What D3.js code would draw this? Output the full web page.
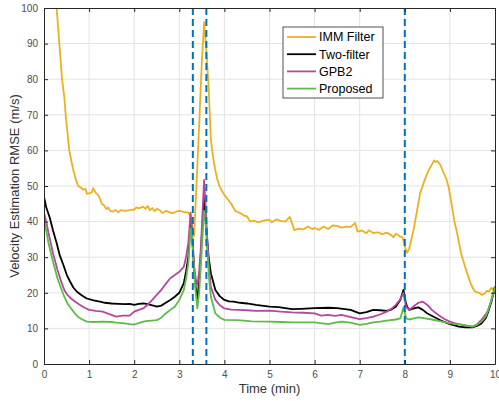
<!DOCTYPE html>
<html>
<head>
<meta charset="utf-8">
<script src="https://cdn.jsdelivr.net/npm/d3@7"></script>
<style>
  body { margin: 0; background: #fff; }
  svg { font-family: 'Liberation Sans', Arial, Helvetica, sans-serif; }
</style>
</head>
<body>
<svg id="chart" width="499" height="401"></svg>
<script>
// + -- data ----------------------------------------------------------------- +
const seriesNames = ['IMM Filter', 'Two-filter', 'GPB2', 'Proposed']
const seriesColors = ['#EDB120', '#000000', '#B5489C', '#5DBB46']

const immT = [0.2, 0.28, 0.34, 0.40, 0.45, 0.48, 0.56, 0.64, 0.70, 0.76, 0.82, 0.87, 0.92, 0.95, 1.02, 1.06, 1.09, 1.15, 1.2, 1.24, 1.28, 1.33, 1.38, 1.42, 1.47, 1.53, 1.58, 1.65, 1.7, 1.8, 1.9, 2.0, 2.05, 2.1, 2.2, 2.25, 2.3, 2.35, 2.4, 2.45, 2.5, 2.57, 2.62, 2.7, 2.8, 2.87, 2.95, 3.0, 3.1, 3.2, 3.25, 3.3, 3.33, 3.38, 3.45, 3.5, 3.55, 3.6, 3.65, 3.7, 3.75, 3.79, 3.84, 3.89, 3.95, 4.0, 4.09, 4.15, 4.24, 4.35, 4.45, 4.5, 4.57, 4.65, 4.75, 4.85, 4.95, 5.0, 5.05, 5.15, 5.25, 5.35, 5.45, 5.5, 5.55, 5.65, 5.75, 5.85, 5.95, 6.0, 6.1, 6.2, 6.3, 6.4, 6.5, 6.6, 6.7, 6.8, 6.9, 6.95, 7.05, 7.15, 7.2, 7.3, 7.4, 7.5, 7.6, 7.7, 7.75, 7.8, 7.9, 7.95, 8.0, 8.05, 8.1, 8.2, 8.34, 8.45, 8.53, 8.6, 8.65, 8.68, 8.72, 8.79, 8.85, 8.92, 8.97, 9.05, 9.1, 9.16, 9.25, 9.32, 9.38, 9.45, 9.5, 9.56, 9.65, 9.71, 9.78, 9.82, 9.86, 9.92, 9.95, 10]
const immV = [113, 100, 90, 80, 75, 70, 60, 55, 52, 50, 49.5, 49, 49.2, 47.8, 48, 48.2, 49.4, 48, 47.5, 46.5, 45, 44.6, 43.5, 44, 43, 42.8, 43.3, 42.6, 43.2, 43, 43.2, 43.4, 44, 43.7, 44.2, 43.6, 44.4, 43.2, 43.8, 42.9, 43.6, 43.2, 42.4, 43, 42.5, 42.4, 42.9, 43, 42.7, 42.5, 41.5, 37, 36, 50, 70, 85, 96, 88, 78, 63, 58, 55, 52, 50, 48.5, 47.5, 46, 45, 43, 42.4, 41.6, 41.5, 40, 40.3, 39.8, 40.2, 40.5, 40.5, 39.8, 40.6, 40.2, 40, 41.3, 39.5, 37.6, 38, 37.8, 38.6, 37.9, 38.2, 37.7, 38.6, 37.9, 38.9, 38.8, 38.3, 38.6, 38.5, 39.6, 37.2, 37.5, 36.7, 37.6, 36.8, 37, 36.5, 36.9, 36.2, 35.6, 36.6, 35.8, 35.6, 33, 31.2, 32.5, 38, 48, 52, 54.5, 56, 57.2, 56.8, 57, 55.9, 54, 52, 49.8, 44, 40, 36.8, 31, 28, 25.6, 23, 21.5, 20.3, 20, 19.4, 19.9, 20.6, 20.3, 21.4, 20.8, 21.7]

const twoT = [0, 0.05, 0.13, 0.2, 0.28, 0.35, 0.43, 0.5, 0.58, 0.65, 0.73, 0.85, 0.95, 1.1, 1.24, 1.35, 1.5, 1.65, 1.8, 1.9, 2.0, 2.1, 2.2, 2.3, 2.4, 2.5, 2.6, 2.7, 2.8, 2.9, 3.0, 3.1, 3.15, 3.2, 3.24, 3.26, 3.3, 3.35, 3.4, 3.45, 3.5, 3.55, 3.6, 3.65, 3.7, 3.8, 3.9, 4.0, 4.1, 4.2, 4.35, 4.5, 4.7, 5.0, 5.2, 5.5, 5.7, 6.0, 6.3, 6.5, 6.8, 7.0, 7.15, 7.3, 7.45, 7.6, 7.7, 7.8, 7.9, 7.97, 8.02, 8.05, 8.1, 8.2, 8.3, 8.4, 8.5, 8.65, 8.8, 9.0, 9.2, 9.35, 9.5, 9.6, 9.7, 9.8, 9.85, 9.92, 10]
const twoV = [47, 44, 41, 37.5, 34, 30.5, 27.8, 25.2, 23.1, 21.5, 20.3, 19.2, 18.4, 17.9, 17.5, 17.2, 17, 16.9, 16.8, 16.9, 16.6, 16.9, 17, 16.8, 16.5, 16.1, 16.4, 17.2, 18, 18.9, 20, 22.7, 26, 30, 38, 40, 33, 23, 17.8, 25, 36, 47, 38, 30, 25.5, 20.8, 19, 18, 17.6, 17.5, 17.2, 17, 16.6, 16.1, 16, 15.4, 15.5, 15.7, 15.8, 15.7, 15.2, 14.2, 14.6, 15.2, 15.1, 14.9, 15.3, 16.1, 18, 20.8, 17.5, 16.1, 15.2, 15.6, 15.9, 15.2, 14.2, 13.2, 12.2, 11.2, 10.5, 10.3, 10.3, 10.7, 11.4, 13, 14.7, 17.5, 21.7]

const gpbT = [0, 0.05, 0.1, 0.2, 0.3, 0.38, 0.45, 0.52, 0.6, 0.7, 0.8, 0.9, 1.0, 1.15, 1.3, 1.45, 1.6, 1.75, 1.9, 2.0, 2.1, 2.2, 2.3, 2.4, 2.5, 2.6, 2.7, 2.8, 2.9, 3.0, 3.1, 3.15, 3.2, 3.25, 3.28, 3.3, 3.34, 3.37, 3.4, 3.44, 3.48, 3.52, 3.55, 3.58, 3.62, 3.66, 3.7, 3.8, 3.9, 4.0, 4.15, 4.3, 4.5, 4.7, 5.0, 5.25, 5.5, 5.75, 6.0, 6.15, 6.3, 6.45, 6.6, 6.8, 7.0, 7.15, 7.3, 7.45, 7.6, 7.7, 7.8, 7.9, 7.97, 8.03, 8.1, 8.2, 8.3, 8.4, 8.5, 8.6, 8.7, 8.8, 8.9, 9.0, 9.1, 9.2, 9.35, 9.5, 9.6, 9.7, 9.8, 9.85, 9.92, 10]
const gpbV = [42.5, 40, 36.8, 31.1, 26.4, 23.2, 20.8, 19.4, 18.4, 17.4, 16.6, 15.8, 15.2, 14.9, 14.7, 14, 13.3, 13.6, 13.6, 14.7, 15.2, 15.6, 16.7, 18, 19.4, 20.8, 22.5, 24.1, 25, 25.9, 27.3, 30, 34, 42.5, 38, 32, 26, 23.6, 22.2, 26, 33, 44, 51.7, 45, 35, 27, 21.7, 18, 16.5, 15.6, 15.3, 15.2, 15.1, 14.9, 15, 14.7, 14.5, 14.4, 14.2, 13.6, 13.8, 13.5, 13.8, 13.2, 12.6, 12.9, 13.3, 13.9, 14.7, 15.5, 16.6, 18.2, 20, 16, 15.2, 16.2, 17.2, 17.5, 16.6, 15.2, 14.2, 13.3, 12.5, 11.9, 11.5, 11.2, 10.8, 10.5, 11.1, 12.4, 14, 15.2, 18, 21.7]

const propT = [0, 0.05, 0.1, 0.2, 0.3, 0.38, 0.45, 0.52, 0.6, 0.68, 0.75, 0.85, 0.95, 1.1, 1.3, 1.5, 1.6, 1.75, 1.9, 2.0, 2.1, 2.2, 2.3, 2.4, 2.5, 2.6, 2.7, 2.8, 2.9, 3.0, 3.1, 3.15, 3.2, 3.25, 3.28, 3.3, 3.35, 3.4, 3.44, 3.48, 3.52, 3.55, 3.58, 3.62, 3.66, 3.7, 3.8, 3.9, 4.0, 4.3, 4.6, 5.0, 5.25, 5.5, 6.0, 6.3, 6.45, 6.6, 6.8, 7.0, 7.15, 7.3, 7.45, 7.6, 7.8, 7.9, 7.97, 8.03, 8.1, 8.2, 8.3, 8.45, 8.6, 8.8, 9.0, 9.15, 9.3, 9.5, 9.6, 9.7, 9.8, 9.85, 9.92, 10]
const propV = [41, 37.5, 33.9, 28.7, 24, 21.2, 18.9, 17, 15.6, 14.3, 13.3, 12.5, 11.9, 11.8, 11.9, 11.8, 11.6, 11.5, 11.2, 11.1, 11.5, 11.9, 12.1, 12.2, 12.3, 13, 14.2, 15.2, 16.1, 18, 20.8, 24, 28.3, 38.1, 36, 32, 22, 15.6, 20, 28, 37, 43, 40, 32, 24, 18.9, 14.2, 13, 12.4, 12.3, 12, 11.9, 11.8, 11.7, 11.7, 11.2, 11.6, 11.9, 11.6, 11, 11.3, 11.7, 11.9, 12.2, 12.5, 12.8, 15.9, 12.8, 12.5, 12.8, 13.1, 12.8, 12.5, 12, 11.4, 11.2, 11, 10.5, 11, 11.9, 13.5, 15.2, 18, 21.5]

const switchTimes = [3.3, 3.6, 8.0]
const xTicks = d3.range(0, 11, 1)
const yTicks = d3.range(0, 101, 10)

// + -- layout ---------------------------------------------------------------- +
const W = 499, H = 401
const padL = 44, padR = 495, padT = 8, padB = 364
const axisColor = '#262626'
const gridColor = '#e3e3e3'

const svg = d3.select('#chart')

const x = d3.scaleLinear().domain([0, 10]).range([padL, padR])
const y = d3.scaleLinear().domain([0, 100]).range([padB, padT])

svg.append('rect').attr('x', 0).attr('y', 0).attr('width', W).attr('height', H).attr('fill', '#fff')

// grid
const grid = svg.append('g')
grid.selectAll('.gx').data(xTicks.slice(1, -1)).enter().append('line')
  .attr('x1', d => x(d)).attr('x2', d => x(d))
  .attr('y1', padT).attr('y2', padB)
  .attr('stroke', gridColor).attr('stroke-width', 1)
grid.selectAll('.gy').data(yTicks.slice(1, -1)).enter().append('line')
  .attr('x1', padL).attr('x2', padR)
  .attr('y1', d => y(d)).attr('y2', d => y(d))
  .attr('stroke', gridColor).attr('stroke-width', 1)

svg.append('clipPath').attr('id', 'plotclip')
  .append('rect').attr('x', padL).attr('y', padT).attr('width', padR - padL).attr('height', padB - padT)

const plot = svg.append('g').attr('clip-path', 'url(#plotclip)')

const line = d3.line().x(d => x(d[0])).y(d => y(d[1]))
const series = [
  d3.zip(immT, immV),
  d3.zip(twoT, twoV),
  d3.zip(gpbT, gpbV),
  d3.zip(propT, propV)
]

series.forEach((s, i) => {
  plot.append('path')
    .datum(s)
    .attr('d', line)
    .attr('fill', 'none')
    .attr('stroke', seriesColors[i])
    .attr('stroke-width', 1.8)
    .attr('stroke-linejoin', 'round')
})

// dashed switching instants
plot.selectAll('.sw').data(switchTimes).enter().append('line')
  .attr('x1', d => x(d)).attr('x2', d => x(d))
  .attr('y1', padT).attr('y2', padB)
  .attr('stroke', '#0072BD').attr('stroke-width', 2)
  .attr('stroke-dasharray', '7,4')

// axes (box with inward ticks, MATLAB style)
const fmt = d3.format('d')
const axB = svg.append('g').attr('transform', 'translate(0,' + padB + ')')
  .call(d3.axisBottom(x).tickValues(xTicks).tickFormat(fmt).tickSizeInner(-4).tickSizeOuter(0).tickPadding(7))
const axL = svg.append('g').attr('transform', 'translate(' + padL + ',0)')
  .call(d3.axisLeft(y).tickValues(yTicks).tickFormat(fmt).tickSizeInner(-4).tickSizeOuter(0).tickPadding(6))
const axT = svg.append('g').attr('transform', 'translate(0,' + padT + ')')
  .call(d3.axisTop(x).tickValues(xTicks).tickFormat('').tickSizeInner(-4).tickSizeOuter(0))
const axR = svg.append('g').attr('transform', 'translate(' + padR + ',0)')
  .call(d3.axisRight(y).tickValues(yTicks).tickFormat('').tickSizeInner(-4).tickSizeOuter(0))

;[axB, axL, axT, axR].forEach(a => {
  a.select('.domain').attr('stroke', axisColor).attr('stroke-width', 1)
  a.selectAll('.tick line').attr('stroke', axisColor)
  a.selectAll('.tick text').attr('fill', '#4d4d4d').style('font-size', '10px')
    .style('font-family', "'Liberation Sans', Arial, sans-serif")
})

// axis labels
svg.append('text')
  .attr('x', (padL + padR) / 2).attr('y', 393)
  .attr('text-anchor', 'middle')
  .style('font-size', '13px').attr('fill', '#333')
  .text('Time (min)')
svg.append('text')
  .attr('transform', 'translate(19,' + ((padT + padB) / 2) + ') rotate(-90)')
  .attr('text-anchor', 'middle')
  .style('font-size', '13px').attr('fill', '#333')
  .text('Velocity Estimation RMSE (m/s)')

// legend
const lg = svg.append('g').attr('transform', 'translate(283,27)')
lg.append('rect').attr('width', 100).attr('height', 71)
  .attr('fill', '#fff').attr('stroke', axisColor).attr('stroke-width', 0.8)
seriesNames.forEach((name, i) => {
  let ly = 10 + i * 17.2
  lg.append('line').attr('x1', 4).attr('x2', 33).attr('y1', ly).attr('y2', ly)
    .attr('stroke', seriesColors[i]).attr('stroke-width', 1.8)
  lg.append('text').attr('x', 36).attr('y', ly + 4.4)
    .style('font-size', '12.5px').attr('fill', '#000')
    .text(name)
})
</script>
</body>
</html>
